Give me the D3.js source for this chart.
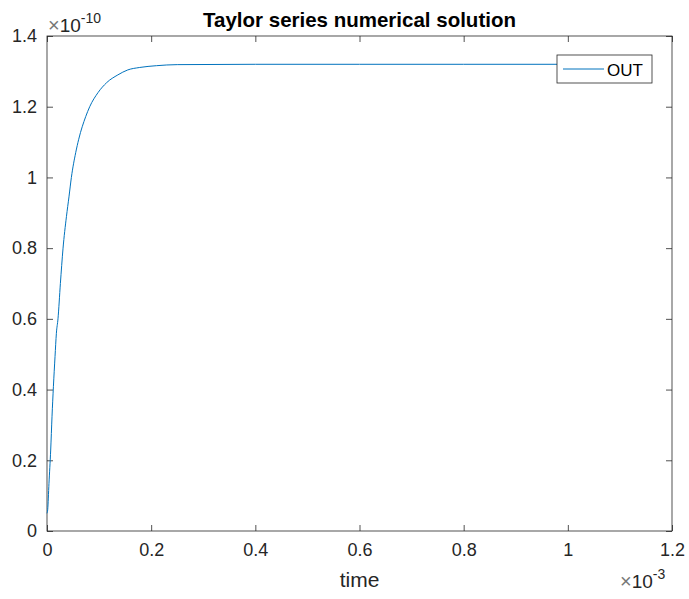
<!DOCTYPE html>
<html>
<head>
<meta charset="utf-8">
<script src="https://cdn.jsdelivr.net/npm/d3@7"></script>
<style>
  html, body { margin: 0; padding: 0; background: #fff; }
  svg { display: block; font-family: "Liberation Sans", Arial, Helvetica, sans-serif; }
</style>
</head>
<body>
<svg id="chart" width="689" height="599"></svg>
<script>
// Simulated output (time in units of 1e-3 s, OUT in units of 1e-10)
const timeValues = [0, 0.0013, 0.0038, 0.0071, 0.0096, 0.0123, 0.0154, 0.018, 0.0211, 0.0257,
  0.0307, 0.0373, 0.0422, 0.0468, 0.0551, 0.0609, 0.0743, 0.082, 0.098, 0.1145,
  0.136, 0.155, 0.178, 0.21, 0.25, 0.4, 0.6, 0.8, 1.0];
const outValues = [0.05, 0.06, 0.135, 0.229, 0.323, 0.408, 0.493, 0.559, 0.6, 0.7,
  0.798, 0.889, 0.945, 1.0, 1.07, 1.108, 1.172, 1.2, 1.24, 1.268,
  1.29, 1.304, 1.311, 1.316, 1.319, 1.32, 1.32, 1.32, 1.32];
const xTicks = [0, 0.2, 0.4, 0.6, 0.8, 1, 1.2];
const yTicks = [0, 0.2, 0.4, 0.6, 0.8, 1, 1.2, 1.4];
const seriesName = "OUT";
const titleText = "Taylor series numerical solution";
const xLabelText = "time";

const svg = d3.select("#chart");
const plotLeft = 47, plotRight = 672, plotTop = 36, plotBottom = 531;

const x = d3.scaleLinear().domain([0, 1.2]).range([plotLeft, plotRight]);
const y = d3.scaleLinear().domain([0, 1.4]).range([plotBottom, plotTop]);

const axisColor = "#262626";
const lineColor = "#0072BD";

// plot box
svg.append("rect")
  .attr("x", plotLeft).attr("y", plotTop)
  .attr("width", plotRight - plotLeft).attr("height", plotBottom - plotTop)
  .attr("fill", "none").attr("stroke", axisColor).attr("stroke-width", 0.8);

// inward ticks on all four sides
const tickLen = 6;
const xAxisB = d3.axisBottom(x).tickValues(xTicks).tickSize(-tickLen).tickPadding(12)
  .tickFormat(d3.format("~g"));
const xAxisT = d3.axisTop(x).tickValues(xTicks).tickSize(-tickLen).tickFormat("");
const yAxisL = d3.axisLeft(y).tickValues(yTicks).tickSize(-tickLen).tickPadding(10)
  .tickFormat(d3.format("~g"));
const yAxisR = d3.axisRight(y).tickValues(yTicks).tickSize(-tickLen).tickFormat("");

function styleAxis(g) {
  g.select(".domain").remove();
  g.selectAll(".tick line").attr("stroke", axisColor).attr("stroke-width", 0.8);
  g.selectAll(".tick text").attr("fill", axisColor)
    .style("font-size", "18px").style("font-family", "'Liberation Sans', Arial, sans-serif");
}
svg.append("g").attr("transform", `translate(0,${plotBottom})`).call(xAxisB).call(styleAxis);
svg.append("g").attr("transform", `translate(0,${plotTop})`).call(xAxisT).call(styleAxis);
svg.append("g").attr("transform", `translate(${plotLeft},0)`).call(yAxisL).call(styleAxis);
svg.append("g").attr("transform", `translate(${plotRight},0)`).call(yAxisR).call(styleAxis);

// data line
const pts = timeValues.map((t, i) => [t, outValues[i]]);
svg.append("path")
  .datum(pts)
  .attr("fill", "none")
  .attr("stroke", lineColor)
  .attr("stroke-width", 1)
  .attr("d", d3.line().x(d => x(d[0])).y(d => y(d[1])).curve(d3.curveMonotoneX));

// title
svg.append("text")
  .attr("x", (plotLeft + plotRight) / 2).attr("y", 27)
  .attr("text-anchor", "middle")
  .attr("font-weight", "bold").attr("font-size", 20.5)
  .attr("fill", "#000")
  .text(titleText);

// x label
svg.append("text")
  .attr("x", (plotLeft + plotRight) / 2).attr("y", 587)
  .attr("text-anchor", "middle")
  .attr("font-size", 21).attr("fill", axisColor)
  .text(xLabelText);

// exponent labels
function exponent(xPos, yPos, exp) {
  const t = svg.append("text").attr("x", xPos).attr("y", yPos)
    .attr("font-size", 19).attr("fill", axisColor);
  t.append("tspan").attr("fill", "#777").attr("font-size", 20).text("\u00d7");
  t.append("tspan").text("10");
  t.append("tspan").attr("dy", -9).attr("font-size", 14).text(exp);
}
exponent(48, 32, "-10");
exponent(620, 588, "-3");

// legend
const lg = svg.append("g");
lg.append("rect")
  .attr("x", 557).attr("y", 55).attr("width", 95).attr("height", 28)
  .attr("fill", "#fff").attr("stroke", axisColor).attr("stroke-width", 0.8);
lg.append("line")
  .attr("x1", 563).attr("x2", 604).attr("y1", 69).attr("y2", 69)
  .attr("stroke", lineColor).attr("stroke-width", 1);
lg.append("text")
  .attr("x", 607).attr("y", 76)
  .attr("font-size", 17).attr("fill", "#000")
  .text(seriesName);
</script>
</body>
</html>
